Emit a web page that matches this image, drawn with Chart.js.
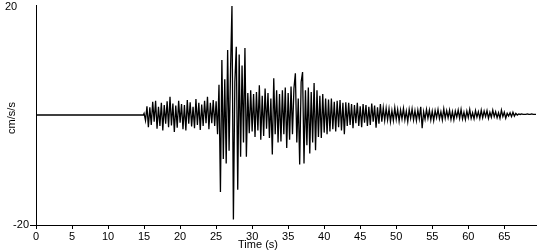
<!DOCTYPE html>
<html>
<head>
<meta charset="utf-8">
<script src="https://cdn.jsdelivr.net/npm/chart.js@4.4.1/dist/chart.umd.min.js"></script>
<style>
  html, body { margin: 0; padding: 0; background: #fff; }
  #wrap { width: 550px; height: 250px; position: relative; }
</style>
</head>
<body>
<div id="wrap"><canvas id="c" width="550" height="250"></canvas></div>
<script>
// ---- data ----
const X_TITLE = "Time (s)";
const Y_TITLE = "cm/s/s";
const X_MIN = 0;
const X_MAX = 69.4;
const X_TICKS = [0, 5, 10, 15, 20, 25, 30, 35, 40, 45, 50, 55, 60, 65];
const Y_MIN = -20;
const Y_MAX = 20;
const Y_TICK_LABELS = ["20", "-20"];
const Y_TICK_VALUES = [20, -20];

// quiet pre-event segment
const QUIET_TIMES = [0, 14.9];
const QUIET_VALUES = [0, 0];

// record samples, every 0.2 s starting at 15.0 s
const SAMPLE_START = 15.0;
const SAMPLE_STEP = 0.2;
const SAMPLES = [
  0.3, -1.0, 1.6, -2.2, 1.4,      // 15
  -1.8, 2.4, -1.2, 2.6, -2.5,     // 16
  1.5, -2.0, 2.2, -2.8, 1.8,      // 17
  -1.6, 2.5, -2.2, 3.3, -1.9,     // 18
  2.1, -3.1, 1.7, -2.3, 2.6,      // 19
  -1.4, 2.0, -2.6, 1.8, -2.8,     // 20
  2.7, -1.6, 2.3, -2.1, 1.5,      // 21
  -2.4, 2.9, -1.8, 2.2, -2.7,     // 22
  1.9, -2.0, 2.6, -1.5, 3.3,      // 23
  -2.6, 2.2, -1.5, 2.7, -2.0,     // 24
  2.5, -3.5, 5.5, -14.0, 10.0,    // 25
  -8.0, 6.5, -8.8, 11.8, -6.5,    // 26
  8.0, 19.8, -19.0, 6.0, 12.4,    // 27
  -13.6, 11.0, -7.6, 9.0, -5.0,   // 28
  12.2, -7.6, 4.0, -3.3, 4.5,     // 29
  -3.0, 3.8, -4.0, 4.2, -2.8,     // 30
  5.4, -4.5, 3.5, -3.8, 4.8,      // 31
  -2.5, 4.0, -4.2, 3.0, -7.2,     // 32
  6.7, -3.5, 4.5, -5.0, 3.8,      // 33
  -4.8, 4.5, -3.5, 5.0, -6.0,     // 34
  4.0, -4.5, 5.2, -3.5, 4.8,      // 35
  7.6, -5.0, 3.0, -9.0, 6.0,      // 36
  7.8, -8.8, 4.5, -5.5, 5.0,      // 37
  -7.0, 4.2, -5.0, 5.8, -6.4,     // 38
  4.5, -4.0, 3.5, -4.2, 3.8,      // 39
  -3.2, 3.0, -3.5, 2.8, -3.0,     // 40
  3.0, -2.6, 2.4, -3.0, 2.6,      // 41
  -2.2, 2.7, -2.8, 2.2, -3.5,     // 42
  2.3, -2.0, 2.2, -1.8, 2.0,      // 43
  -2.4, 1.8, -1.5, 2.2, -2.0,     // 44
  1.6, -2.2, 2.0, -1.4, 1.8,      // 45
  -2.0, 1.5, -1.8, 2.1, -1.2,     // 46
  1.7, -2.3, 1.4, -1.6, 2.0,      // 47
  -1.2, 1.3, -1.0, 1.2, -0.9,     // 48
  1.1, -1.2, 0.8, -1.0, 1.3,      // 49
  -0.8, 1.0, -1.1, 0.9, -0.7,     // 50
  1.2, -0.9, 0.7, -1.2, 1.0,      // 51
  -0.6, 1.1, -0.9, 0.8, -1.0,     // 52
  0.9, -0.7, 1.5, -2.4, 0.6,      // 53
  -0.8, 1.0, -0.6, 0.9, -0.9,     // 54
  0.7, -1.0, 0.8, -0.5, 1.0,      // 55
  -0.7, 0.6, -0.9, 1.1, -0.6,     // 56
  0.8, -0.5, 0.9, -0.8, 0.6,      // 57
  -0.9, 0.7, -0.4, 0.9, -0.6,     // 58
  1.0, -0.7, 0.5, -0.8, 0.7,      // 59
  -0.5, 1.0, -0.6, 0.4, -0.7,     // 60
  0.8, -0.4, 0.6, -0.6, 0.9,      // 61
  -0.5, 0.7, -0.3, 0.8, -0.6,     // 62
  0.5, -0.4, 0.9, -0.3, 0.6,      // 63
  -0.5, 0.4, -0.6, 0.9, -0.3,     // 64
  0.5, -0.6, 0.3, -0.2, 0.4,      // 65
  -0.3, 0.5, -0.2, 0.3, 0.0,      // 66
  0.2, 0.1, 0.2, 0.1, 0.1,        // 67
  0.1, 0.2, 0.1, 0.1, 0.2,        // 68
  0.1, 0.1, 0.1                   // 69
];

// ---- build points ----
const points = [];
QUIET_TIMES.forEach((t, i) => points.push({ x: t, y: QUIET_VALUES[i] }));
SAMPLES.forEach((v, i) => points.push({ x: +(SAMPLE_START + i * SAMPLE_STEP).toFixed(2), y: v }));

const FONT_FAMILY = '"Liberation Sans", Arial, sans-serif';
const FONT = '11px ' + FONT_FAMILY;

const textPlugin = {
  id: 'texts',
  afterDraw(chart) {
    const ctx = chart.ctx;
    const ys = chart.scales.y, xs = chart.scales.x;
    ctx.save();
    ctx.fillStyle = '#000';
    ctx.strokeStyle = '#000';
    ctx.font = FONT;
    // y tick labels
    ctx.textBaseline = 'middle';
    ctx.textAlign = 'left';
    ctx.fillText(Y_TICK_LABELS[0], 5, ys.getPixelForValue(Y_TICK_VALUES[0]) + 2);
    ctx.textAlign = 'right';
    ctx.fillText(Y_TICK_LABELS[1], 29, ys.getPixelForValue(Y_TICK_VALUES[1]));
    // small tick at -20
    ctx.lineWidth = 1;
    const yb = Math.round(ys.getPixelForValue(Y_MIN)) + 0.5;
    ctx.beginPath();
    ctx.moveTo(30, yb);
    ctx.lineTo(xs.left, yb);
    ctx.stroke();
    // y title
    ctx.save();
    ctx.translate(12, (ys.top + ys.bottom) / 2 + 3);
    ctx.rotate(-Math.PI / 2);
    ctx.textAlign = 'center';
    ctx.textBaseline = 'middle';
    ctx.fillText(Y_TITLE, 0, 0);
    ctx.restore();
    // x title
    ctx.textAlign = 'center';
    ctx.textBaseline = 'middle';
    ctx.fillText(X_TITLE, 258, 245);
    ctx.restore();
  }
};

new Chart(document.getElementById('c'), {
  type: 'line',
  data: {
    datasets: [{
      data: points,
      borderColor: '#000',
      borderWidth: 1.3,
      pointRadius: 0,
      tension: 0,
      fill: false
    }]
  },
  options: {
    responsive: false,
    animation: false,
    events: [],
    layout: { padding: { top: 5, right: 14, left: 0, bottom: 0 } },
    plugins: { legend: { display: false }, tooltip: { enabled: false } },
    scales: {
      x: {
        type: 'linear',
        min: X_MIN,
        max: X_MAX,
        afterBuildTicks: s => { s.ticks = X_TICKS.map(v => ({ value: v })); },
        afterFit: s => { s.height = 25; },
        ticks: { color: '#000', font: { family: FONT_FAMILY, size: 11 }, padding: 1, maxRotation: 0, autoSkip: false },
        grid: { drawOnChartArea: false, drawTicks: true, tickLength: 4, color: '#000', lineWidth: 1 },
        border: { color: '#000', width: 1 }
      },
      y: {
        min: Y_MIN,
        max: Y_MAX,
        afterFit: s => { s.width = 36; },
        ticks: { display: false },
        grid: { display: false },
        border: { color: '#000', width: 1 }
      }
    }
  },
  plugins: [textPlugin]
});
</script>
</body>
</html>
